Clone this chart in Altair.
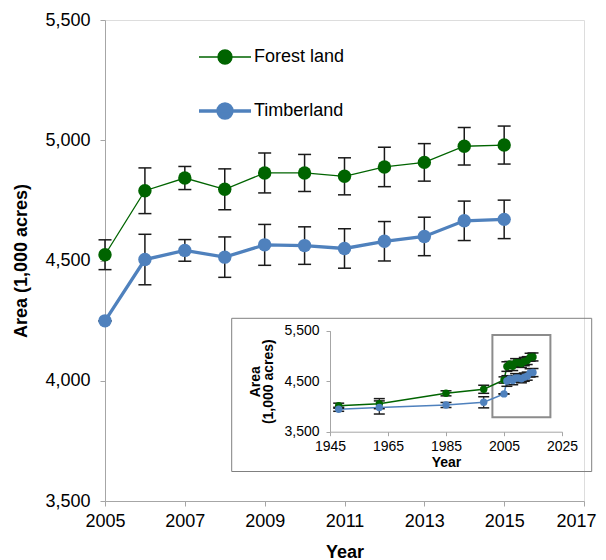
import altair as alt
import pandas as pd

FONT = "Liberation Sans"

series_names = ["Forest land", "Timberland"]
series_colors = ["#006400", "#4f81bd"]
series_line_widths = [1.3, 3.3]

years = [2005, 2006, 2007, 2008, 2009, 2010, 2011, 2012, 2013, 2014, 2015]
forest_area = [4524, 4790, 4843, 4796, 4864, 4864, 4850, 4889, 4908, 4975, 4980]
forest_err = [62, 95, 48, 85, 83, 77, 77, 82, 78, 78, 79]
timber_area = [4249, 4504, 4542, 4514, 4565, 4562, 4550, 4580, 4600, 4665, 4671]
timber_err = [0, 105, 45, 84, 85, 78, 82, 82, 80, 82, 80]

hist_years = [1948, 1962, 1985, 1998]
hist_forest_area = [4015, 4055, 4260, 4340]
hist_forest_err = [50, 100, 50, 80]
hist_timber_area = [3944, 3980, 4029, 4082]
hist_timber_err = [40, 130, 50, 110]

main_x_ticks = [2005, 2007, 2009, 2011, 2013, 2015, 2017]
main_y_ticks = [3500, 4000, 4500, 5000, 5500]
inset_x_ticks = [1945, 1965, 1985, 2005, 2025]
inset_y_ticks = [3500, 4500, 5500]
zoom_box_years = [2001, 2021]
zoom_box_area = [3785, 5415]


def rows(yrs, vals, errs, name):
    return [{"year": y, "area": v, "err": e, "series": name} for y, v, e in zip(yrs, vals, errs)]


df_main = pd.DataFrame(
    rows(years, forest_area, forest_err, series_names[0])
    + rows(years, timber_area, timber_err, series_names[1])
)
df_inset = pd.DataFrame(
    rows(hist_years + years, hist_forest_area + forest_area, hist_forest_err + forest_err, series_names[0])
    + rows(hist_years + years, hist_timber_area + timber_area, hist_timber_err + timber_err, series_names[1])
)
df_box = pd.DataFrame({"x0": [zoom_box_years[0]], "x1": [zoom_box_years[1]],
                       "y0": [zoom_box_area[0]], "y1": [zoom_box_area[1]]})

color_scale = alt.Scale(domain=series_names, range=series_colors)
width_scale = alt.Scale(domain=series_names, range=series_line_widths)

axis_common = dict(grid=False, domainColor="#a6a6a6", tickColor="#a6a6a6", labelColor="#000000",
                   titleColor="#000000", labelFont=FONT, titleFont=FONT, titleFontWeight="bold",
                   labelFlush=False, labelOverlap=False)

# ---------- main chart ----------
mx = alt.Scale(domain=[2005, 2017], nice=False, zero=False)
my = alt.Scale(domain=[3500, 5500], nice=False, zero=False)
main_x_axis = alt.Axis(values=main_x_ticks, format="d", title="Year", labelFontSize=18, titleFontSize=18,
                       tickSize=5, labelPadding=6, titlePadding=13,
                       labelOffset={"condition": {"test": "datum.value == 2017", "value": -8}, "value": 0},
                       **axis_common)
main_y_axis = alt.Axis(values=main_y_ticks, format=",.0f", title="Area (1,000 acres)", labelFontSize=18,
                       titleFontSize=18, tickSize=5, labelPadding=10, titlePadding=14, **axis_common)
X = alt.X("year:Q", scale=mx, axis=main_x_axis)
Y = alt.Y("area:Q", scale=my, axis=main_y_axis)


def make_legend():
    return alt.Legend(
        title=None, orient="none", legendX=92, legendY=10,
        symbolType="M-1,0H1M-0.27,0A0.27,0.27,0,1,1,0.27,0A0.27,0.27,0,1,1,-0.27,0Z",
        symbolSize=2704, labelFontSize=18, labelFont=FONT, labelColor="#000000", labelOffset=1,
        rowPadding=16, padding=0, symbolOpacity=1,
    )


base = alt.Chart(df_main)
col_nolegend = alt.Color("series:N", scale=color_scale, legend=None)
lines = base.mark_line().encode(
    x=X, y=Y,
    color=alt.Color("series:N", scale=color_scale, legend=make_legend()),
    strokeWidth=alt.StrokeWidth("series:N", scale=width_scale, legend=make_legend()),
)
errb = base.transform_calculate(lo="datum.area - datum.err", hi="datum.area + datum.err")
err_rule = errb.mark_rule(color="#1a1a1a", strokeWidth=1.5).encode(
    x=X, y=alt.Y("lo:Q", scale=my, axis=main_y_axis), y2="hi:Q")
cap_lo = errb.mark_tick(orient="horizontal", size=13, thickness=1.5, color="#1a1a1a", opacity=1).encode(
    x=X, y=alt.Y("lo:Q", scale=my, axis=main_y_axis))
cap_hi = errb.mark_tick(orient="horizontal", size=13, thickness=1.5, color="#1a1a1a", opacity=1).encode(
    x=X, y=alt.Y("hi:Q", scale=my, axis=main_y_axis))
points = base.mark_circle(size=180, opacity=1).encode(
    x=X, y=Y, color=alt.Color("series:N", scale=color_scale, legend=make_legend()))

main = alt.layer(lines, err_rule, cap_lo, cap_hi, points)

# ---------- inset ----------
ix = alt.Scale(domain=[1945, 2025], range=[225, 457], nice=False, zero=False)
iy = alt.Scale(domain=[3500, 5500], range=[411.7, 310.7], nice=False, zero=False)
inset_x_axis = alt.Axis(orient="bottom", offset=-69.3, values=inset_x_ticks, format="d", title="Year",
                        labelFontSize=14, titleFontSize=14, tickSize=4, labelPadding=4, titlePadding=2,
                        zindex=1, **axis_common)
inset_y_axis = alt.Axis(orient="left", offset=-225, values=inset_y_ticks, format=",.0f",
                        title=["Area", "(1,000 acres)"], labelFontSize=14, titleFontSize=14,
                        titleLineHeight=13, tickSize=4, labelPadding=7, titlePadding=8,
                        zindex=1, **axis_common)
IX = alt.X("year:Q", scale=ix, axis=inset_x_axis)
IY = alt.Y("area:Q", scale=iy, axis=inset_y_axis)

frame = alt.Chart(pd.DataFrame({"k": [0]})).mark_rect(filled=False, stroke="#808080", strokeWidth=1).encode(
    x=alt.value(126.7), x2=alt.value(486.7), y=alt.value(298.3), y2=alt.value(451.5))
box = alt.Chart(df_box).mark_rect(filled=False, stroke="#8c8c8c", strokeWidth=2).encode(
    x=alt.X("x0:Q", scale=ix, axis=inset_x_axis), x2="x1:Q",
    y=alt.Y("y0:Q", scale=iy, axis=inset_y_axis), y2="y1:Q")

ibase = alt.Chart(df_inset)
iline = ibase.mark_line(strokeWidth=1.5).encode(x=IX, y=IY, color=col_nolegend)
ierrb = ibase.transform_calculate(lo="datum.area - datum.err", hi="datum.area + datum.err")
ierr_rule = ierrb.mark_rule(color="#1a1a1a", strokeWidth=1.2).encode(
    x=IX, y=alt.Y("lo:Q", scale=iy, axis=inset_y_axis), y2="hi:Q")
icap_lo = ierrb.mark_tick(orient="horizontal", size=11, thickness=1.5, color="#1a1a1a", opacity=1).encode(
    x=IX, y=alt.Y("lo:Q", scale=iy, axis=inset_y_axis))
icap_hi = ierrb.mark_tick(orient="horizontal", size=11, thickness=1.5, color="#1a1a1a", opacity=1).encode(
    x=IX, y=alt.Y("hi:Q", scale=iy, axis=inset_y_axis))
ipoints = ibase.mark_circle(size=55, opacity=1).encode(x=IX, y=IY, color=col_nolegend)

inset = alt.layer(frame, box, iline, ierr_rule, icap_lo, icap_hi, ipoints)

chart = alt.layer(main, inset).resolve_scale(x="independent", y="independent").properties(
    width=479, height=481,
    padding={"left": 97, "top": 12, "right": 14, "bottom": 60},
    autosize=alt.AutoSizeParams(type="none"),
).configure_view(stroke=None).configure(font=FONT)

chart.save("out.html", embed_options={"renderer": "svg", "actions": False})
